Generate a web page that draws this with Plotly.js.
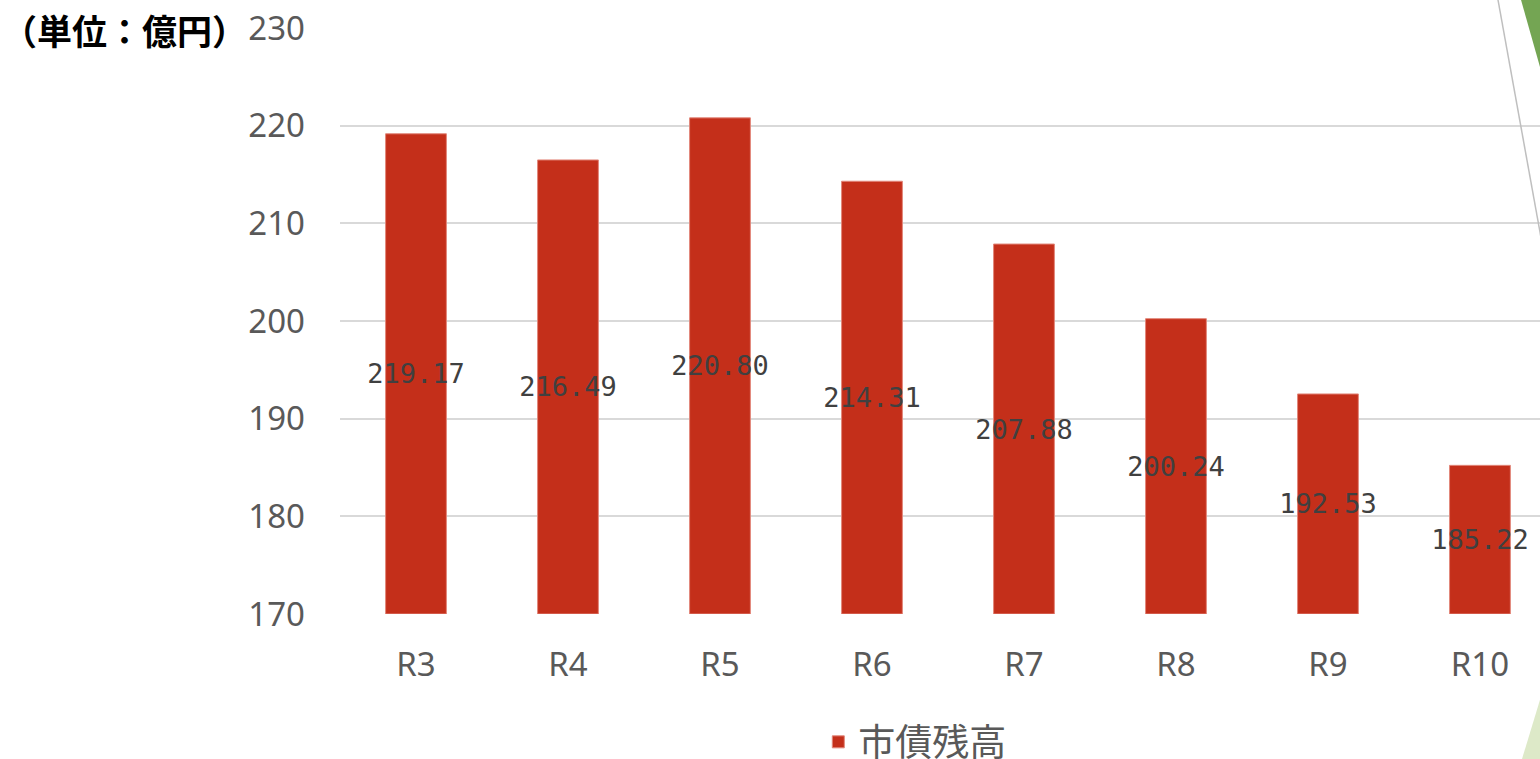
<!DOCTYPE html>
<html>
<head>
<meta charset="utf-8">
<script src="https://cdn.plot.ly/plotly-3.0.1.min.js"></script>
<style>
  html, body { margin: 0; padding: 0; background: #ffffff; }
  #chart { width: 1540px; height: 759px; }
</style>
</head>
<body>
<div id="chart"></div>
<script>
// 市債残高の推移（単位：億円）
const categories = ['R3', 'R4', 'R5', 'R6', 'R7', 'R8', 'R9', 'R10'];
const balances = [219.17, 216.49, 220.80, 214.31, 207.88, 200.24, 192.53, 185.22];
const seriesName = '市債残高';
const unitLabel = '（単位：億円）';
const yTicks = [170, 180, 190, 200, 210, 220, 230];
const axisFloor = 170;

const axisFont = { family: '"Noto Sans", "Open Sans", sans-serif', size: 33, color: '#595959' };

// 棒は軸の下端から立ち上げ、値ラベルを棒の中央に置く
const trace = {
  type: 'bar',
  name: seriesName,
  x: categories,
  base: balances.map(() => axisFloor),
  y: balances.map(v => v - axisFloor),
  width: 0.4,
  marker: { color: '#c42f1a', line: { color: '#e2877a', width: 1 } },
  text: balances.map(v => v.toFixed(2)),
  textposition: 'inside',
  insidetextanchor: 'middle',
  textangle: 0,
  constraintext: 'none',
  textfont: { family: '"DejaVu Sans Mono", monospace', size: 27, color: '#404040' },
  customdata: balances,
  hovertemplate: '%{x}: %{customdata:.2f}<extra></extra>'
};

// パネル右端の装飾
const deco = [
  { type: 'line', xref: 'paper', yref: 'paper', x0: 0.965, y0: 1.0478, x1: 1.0042, y1: 0.6041,
    line: { color: '#bfbfbf', width: 1.5 }, layer: 'above' },
  { type: 'path', xref: 'paper', yref: 'paper',
    path: 'M0.9842,1.0478 L1.0083,1.0478 L1.0083,0.8737 Z',
    fillcolor: '#74a553', line: { width: 0 }, layer: 'above' },
  { type: 'path', xref: 'paper', yref: 'paper',
    path: 'M0.985,-0.2474 L1.0083,-0.0904 L1.0083,-0.2833 Z',
    fillcolor: '#dde9c8', line: { width: 0 }, layer: 'above' }
];

const layout = {
  width: 1540,
  height: 759,
  margin: { l: 340, r: 0, t: 28, b: 145, autoexpand: false },
  paper_bgcolor: '#ffffff',
  plot_bgcolor: '#ffffff',
  showlegend: true,
  legend: {
    orientation: 'h',
    xref: 'paper', x: 0.479, xanchor: 'center',
    yref: 'container', y: 0.022, yanchor: 'middle',
    font: { family: '"Noto Sans CJK JP", sans-serif', size: 37, color: '#595959' }
  },
  xaxis: {
    type: 'category',
    range: [-0.5, 7.395],
    showgrid: false,
    showline: false,
    zeroline: false,
    ticks: '',
    ticklabelstandoff: 28,
    tickfont: axisFont
  },
  yaxis: {
    range: [170, 230],
    tickvals: yTicks,
    ticktext: yTicks.map(String),
    showgrid: true,
    gridcolor: '#d9d9d9',
    gridwidth: 1.8,
    zeroline: false,
    showline: false,
    ticks: '',
    ticklabelstandoff: 34,
    tickfont: axisFont
  },
  annotations: [{
    text: '<b>' + unitLabel + '</b>',
    xref: 'paper', yref: 'paper',
    x: -0.2833, y: 0.9966,
    xanchor: 'left', yanchor: 'middle',
    showarrow: false,
    font: { family: '"Noto Sans CJK JP", sans-serif', size: 35, color: '#000000' }
  }],
  shapes: deco
};

Plotly.newPlot('chart', [trace], layout, { displayModeBar: false, staticPlot: true });
</script>
</body>
</html>
